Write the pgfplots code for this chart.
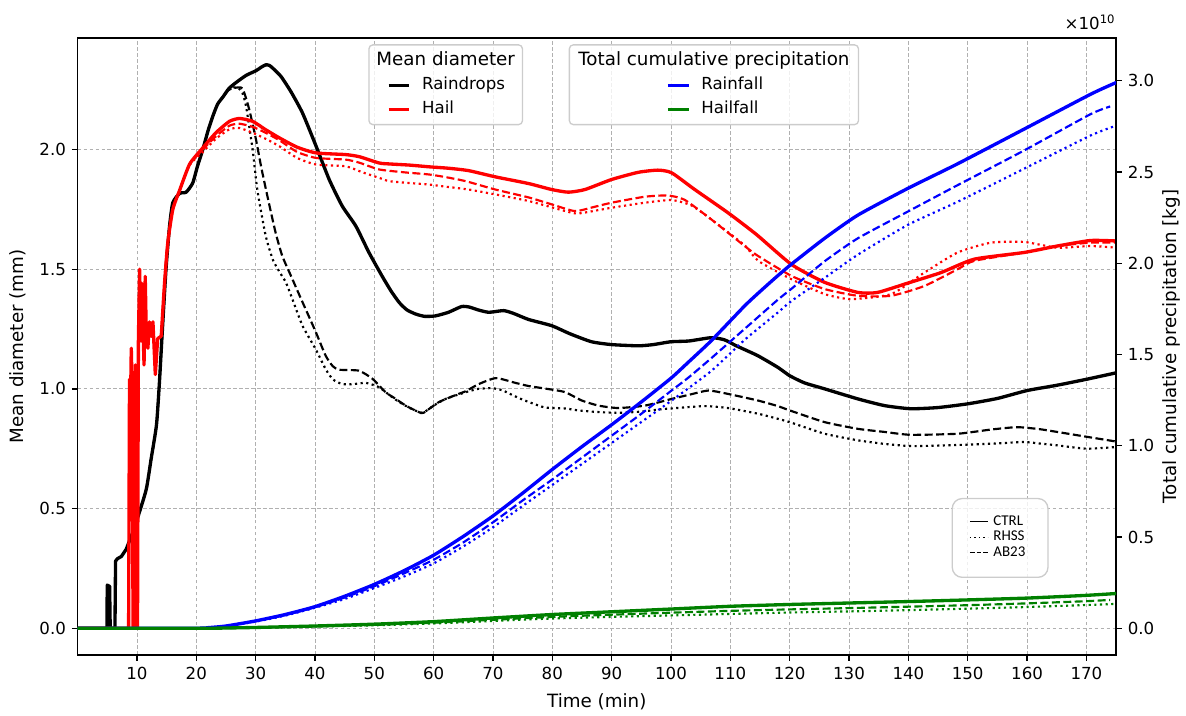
\documentclass[border=0pt]{standalone}
\usepackage{fontspec}
\setmainfont{DejaVu Sans}
\newfontfamily\carlito{Carlito}
\usepackage{pgfplots}
\usepackage{pgfplotstable}
\pgfplotsset{compat=1.18}

\definecolor{gridgray}{HTML}{B0B0B0}
\definecolor{framegray}{HTML}{CCCCCC}
\definecolor{mgreen}{HTML}{008000}
\definecolor{mblue}{HTML}{0000FF}
\definecolor{mred}{HTML}{FF0000}

% ---------------- Mean diameter (mm) ----------------
\pgfplotstableread{
x y
0 0
4.95 0
5.0 0.18
5.4 0.175
5.5 0
6.3 0
6.4 0.28
6.7 0.29
7.4 0.30
8.2 0.33
9.3 0.40
}\raindropsCTRLa

\pgfplotstableread{
x y
9.3 0.40
10.45 0.487
11.6 0.583
12.4 0.708
13.3 0.85
13.8 1.03
14.3 1.25
14.9 1.5
15.5 1.68
16.05 1.778
17.2 1.817
18.3 1.822
19.4 1.86
20.2 1.93
21.1 2.0
22.0 2.08
22.8 2.14
23.6 2.19
24.5 2.22
25.5 2.255
26.7 2.28
28.4 2.31
30.1 2.33
31.0 2.345
31.7 2.354
32.3 2.352
32.9 2.34
34.3 2.305
36.0 2.24
37.9 2.153
40.1 2.02
42.4 1.875
44.6 1.764
46.9 1.68
49.1 1.57
51.3 1.472
52.8 1.41
54.2 1.361
55.5 1.33
57.0 1.3125
58.5 1.303
60.3 1.305
62.5 1.32
64.7 1.344
66.0 1.342
67.5 1.33
69.3 1.32
71.8 1.327
73.5 1.315
76.0 1.29
79.9 1.264
83.0 1.23
86.6 1.197
90.0 1.185
94.5 1.18
97.0 1.185
100.0 1.197
103.0 1.2
106.8 1.214
109.0 1.205
111.0 1.18
114.6 1.139
118.0 1.09
120.0 1.055
122.5 1.025
125.9 1.0
131.5 0.958
136.0 0.93
140.4 0.917
145.0 0.922
150.0 0.9375
155.0 0.96
160.0 0.993
165.0 1.015
170.0 1.04
175.0 1.067
}\raindropsCTRLb

\pgfplotstableread{
x y
9.3 0.40
10.45 0.487
11.6 0.583
12.4 0.708
13.3 0.85
13.8 1.03
14.3 1.25
14.9 1.5
15.5 1.68
16.05 1.778
17.2 1.817
18.3 1.822
19.4 1.86
20.2 1.93
21.1 2.0
22.0 2.08
22.8 2.14
23.6 2.19
24.5 2.22
25.5 2.25
26.3 2.26
27.2 2.255
27.8 2.235
28.4 2.18
29.5 2.0
30.3 1.83
31.7 1.64
32.9 1.54
34.0 1.49
35.1 1.445
36.2 1.375
37.9 1.264
40.1 1.167
41.8 1.083
43.0 1.04
44.6 1.02
46.5 1.02
48.6 1.025
50.8 1.007
52.5 0.975
54.2 0.945
56.0 0.92
58.1 0.9
60.0 0.93
62.0 0.958
65.4 0.986
67.5 1.0
69.8 1.003
71.5 0.995
73.2 0.975
75.0 0.955
76.6 0.94
78.8 0.922
82.2 0.918
84.4 0.91
87.8 0.903
91.1 0.9
95.0 0.905
98.4 0.915
101.0 0.92
105.7 0.928
109.6 0.92
114.7 0.896
118.0 0.875
120.0 0.861
125.9 0.8125
131.5 0.785
136.0 0.77
140.4 0.761
145.0 0.763
150.0 0.767
155.0 0.772
159.5 0.778
162.0 0.772
165.1 0.764
170.0 0.75
175.0 0.757
}\raindropsRHSS

\pgfplotstableread{
x y
9.3 0.40
10.45 0.487
11.6 0.583
12.4 0.708
13.3 0.85
13.8 1.03
14.3 1.25
14.9 1.5
15.5 1.68
16.05 1.778
17.2 1.817
18.3 1.822
19.4 1.86
20.2 1.93
21.1 2.0
22.0 2.08
22.8 2.14
23.6 2.19
24.5 2.22
25.5 2.25
26.5 2.258
27.8 2.255
28.9 2.17
30.0 2.05
31.0 1.92
32.3 1.77
33.4 1.65
34.5 1.555
36.0 1.47
37.5 1.385
40.1 1.24
41.8 1.139
43.0 1.095
44.1 1.08
47.4 1.076
49.7 1.042
51.9 0.986
53.5 0.96
55.3 0.93
57.5 0.903
58.3 0.9
60.9 0.945
64.2 0.979
65.4 0.99
67.6 1.02
70.5 1.045
73.8 1.025
76.0 1.012
79.9 0.997
82.2 0.986
85.0 0.951
87.8 0.93
91.1 0.92
95.6 0.93
100.1 0.958
103.0 0.975
106.3 0.993
109.6 0.979
114.7 0.951
118.0 0.928
120.0 0.91
125.9 0.861
131.5 0.833
136.0 0.82
140.4 0.808
148.3 0.8125
153.9 0.83
158.3 0.84
162.0 0.832
165.1 0.82
170.0 0.80
175.0 0.78
}\raindropsAB

\pgfplotstableread{
x y
0 0
8.6 0
8.75 1.04
8.9 0.9
9.05 1.17
9.2 1.0
9.35 0
9.6 0
9.75 1.1
9.9 1.0
10.1 0
10.25 1.2
10.45 1.5
10.7 1.2
10.85 1.44
11.0 1.28
11.2 1.1
11.4 1.47
11.6 1.2
11.85 1.17
12.1 1.28
12.4 1.22
12.7 1.28
13.1 1.06
13.5 1.21
14.1 1.22
}\hailCTRLa

\pgfplotstableread{
x y
14.1 1.22
14.65 1.44
15.2 1.61
16.05 1.75
17.2 1.83
18.9 1.94
21.1 2.007
23.3 2.07
25.6 2.118
27.3 2.13
29.5 2.118
31.7 2.083
34.0 2.049
37.0 2.01
40.2 1.986
45.2 1.979
47.5 1.97
50.8 1.944
52.5 1.94
56.0 1.935
59.2 1.928
62.5 1.922
65.9 1.912
70.4 1.886
76.0 1.858
79.9 1.833
82.7 1.822
85.5 1.833
90.0 1.875
94.5 1.905
97.8 1.914
100.1 1.903
104.0 1.833
109.6 1.736
114.4 1.645
120.3 1.52
125.9 1.445
131.5 1.403
134.8 1.403
139.9 1.442
145.5 1.486
151.1 1.542
159.5 1.57
165.1 1.597
170.7 1.62
175.0 1.618
}\hailCTRLb

\pgfplotstableread{
x y
14.1 1.22
14.65 1.44
15.2 1.61
16.05 1.75
17.2 1.83
18.9 1.935
21.1 1.99
23.3 2.045
25.6 2.085
27.3 2.09
29.5 2.07
31.7 2.045
34.0 2.014
37.0 1.965
40.2 1.9375
45.2 1.93
48.0 1.905
50.8 1.882
52.5 1.868
56.0 1.86
59.2 1.854
62.0 1.845
65.9 1.833
70.4 1.8125
76.0 1.785
82.2 1.743
84.4 1.733
90.0 1.757
95.6 1.778
100.1 1.789
103.4 1.767
106.8 1.708
112.4 1.6
114.7 1.535
120.3 1.458
125.9 1.396
130.3 1.375
137.1 1.396
142.7 1.486
148.3 1.57
153.9 1.611
159.5 1.614
165.1 1.59
170.7 1.597
175.0 1.59
}\hailRHSS

\pgfplotstableread{
x y
14.1 1.22
14.65 1.44
15.2 1.61
16.05 1.75
17.2 1.83
18.9 1.94
21.1 2.0
23.3 2.055
25.6 2.1
27.3 2.108
29.5 2.095
31.7 2.07
34.0 2.039
37.0 1.99
40.2 1.965
45.2 1.958
47.5 1.945
50.8 1.917
55.0 1.905
59.2 1.896
62.0 1.885
65.4 1.868
70.4 1.833
76.0 1.80
79.9 1.771
83.8 1.743
87.0 1.76
90.0 1.778
95.6 1.803
99.5 1.808
102.3 1.79
106.8 1.708
112.4 1.597
114.7 1.555
120.3 1.472
125.9 1.417
131.5 1.389
137.1 1.389
142.7 1.43
148.3 1.5
151.1 1.535
159.5 1.57
165.1 1.597
170.7 1.611
175.0 1.611
}\hailAB

% ---------------- Total cumulative precipitation (x 1e10 kg) ----------------
\pgfplotstableread{
x y
0 0
20 0
22 0.003
25 0.012
30 0.04
35 0.075
40 0.118
45 0.175
50 0.24
55 0.315
60 0.4
65 0.503
70 0.615
75 0.74
80 0.87
85 0.995
90 1.115
95 1.24
100 1.37
103 1.46
106.8 1.576
112.4 1.766
115 1.845
118 1.932
120.3 1.995
125.9 2.137
131.5 2.264
139.9 2.41
148.3 2.545
159.5 2.735
170.7 2.926
175 2.99
}\rainCTRL

\pgfplotstableread{
x y
0 0
20 0
25 0.01
30 0.036
35 0.069
40 0.112
45 0.16
50 0.22
55 0.283
60 0.355
65 0.448
70 0.553
75 0.67
80 0.785
85 0.9
90 1.015
95 1.13
100 1.245
106.8 1.41
112.4 1.58
118 1.73
120.3 1.793
125.9 1.92
131.5 2.047
139.9 2.21
148.3 2.337
159.5 2.518
170.7 2.7
175 2.754
}\rainRHSS

\pgfplotstableread{
x y
0 0
20 0
25 0.011
30 0.038
35 0.072
40 0.115
45 0.168
50 0.23
55 0.3
60 0.375
65 0.47
70 0.58
75 0.7
80 0.815
85 0.935
90 1.055
95 1.175
100 1.3
103 1.375
106.8 1.48
112.4 1.64
118 1.8
120.3 1.86
125.9 2.011
131.5 2.137
139.9 2.283
148.3 2.428
159.5 2.618
170.7 2.817
174 2.859
}\rainAB

\pgfplotstableread{
x y
0 0
22 0
25 0.001
30 0.004
40 0.012
50 0.022
60 0.036
70 0.056
80 0.075
90 0.09
100 0.105
110 0.12
120 0.13
130 0.138
140 0.146
150 0.155
160 0.165
170 0.18
175 0.19
}\hailfallCTRL

\pgfplotstableread{
x y
0 0
22 0
30 0.003
40 0.009
50 0.016
60 0.026
70 0.04
80 0.053
90 0.062
100 0.07
110 0.078
120 0.086
130 0.092
140 0.099
150 0.107
160 0.116
170 0.127
175 0.133
}\hailfallRHSS

\pgfplotstableread{
x y
0 0
22 0
30 0.003
40 0.01
50 0.018
60 0.03
70 0.046
80 0.062
90 0.074
100 0.085
110 0.095
120 0.103
130 0.11
140 0.118
150 0.126
160 0.136
170 0.148
174 0.155
}\hailfallAB

\pgfplotsset{
  base/.style={
    width=624.9pt, height=371.4pt, scale only axis,
    at={(0,0)}, anchor=south west,
    xmin=0, xmax=175,
    /pgf/number format/assume math mode=true,
    ticklabel style={font=\fontsize{10}{12}\selectfont},
    label style={font=\fontsize{11}{13}\selectfont},
    tick align=outside, major tick length=3.5pt,
    every tick/.style={black, line width=0.8pt},
    axis line style={line width=0.8pt},
  },
  ctrl/.style={line width=2pt, line join=round, line cap=round},
  rhss/.style={line width=1.3pt, dash pattern=on 1.3pt off 2.1pt},
  ab/.style={line width=1.3pt, dash pattern=on 4.8pt off 2.1pt},
  sm/.style={smooth, tension=0.35},
  legbase/.style={
    width=624.9pt, height=371.4pt, scale only axis,
    at={(0,0)}, anchor=south west, hide axis,
    xmin=0, xmax=1, ymin=0, ymax=1,
    legend cell align=left,
  },
}

\begin{document}
\begin{tikzpicture}
\begin{scope}[x=0.6pt,y=-0.6pt,shift={(-77.8,-657)}]
\useasboundingbox (0,0) rectangle (1186,713);
\end{scope}

% ---------- left axis ----------
\begin{axis}[base,
  ymin=-0.1125, ymax=2.4667,
  xtick={10,20,...,170}, ytick={0,0.5,1,1.5,2},
  xtick pos=bottom, ytick pos=left,
  yticklabel style={/pgf/number format/.cd, fixed, fixed zerofill, precision=1},
  grid=major,
  grid style={gridgray, line width=0.5pt, dash pattern=on 2.2pt off 1.4pt},
  xlabel={Time (min)}, ylabel={Mean diameter (mm)},
  xlabel style={at={(axis description cs:0.5,-0.0759)}, anchor=center},
  ylabel style={at={(axis description cs:-0.0574,0.5)}, anchor=center},
]
\addplot[black, ctrl] table {\raindropsCTRLa};
\addplot[black, ctrl, sm] table {\raindropsCTRLb};
\addplot[black, rhss, sm] table {\raindropsRHSS};
\addplot[black, ab, sm] table {\raindropsAB};
\addplot[mred, ctrl] table {\hailCTRLa};
\addplot[mred, ctrl, sm] table {\hailCTRLb};
\addplot[mred, rhss, sm] table {\hailRHSS};
\addplot[mred, ab, sm] table {\hailAB};
\end{axis}

% ---------- right axis ----------
\begin{axis}[base,
  ymin=-0.1475, ymax=3.235,
  axis x line=none, axis y line*=right,
  ytick={0,0.5,1,1.5,2,2.5,3},
  yticklabel style={/pgf/number format/.cd, fixed, fixed zerofill, precision=1},
  scaled y ticks=false,
  ylabel={Total cumulative precipitation [kg]},
  ylabel style={at={(axis description cs:1.0535,0.5)}, anchor=center},
]
\addplot[mblue, ctrl, sm] table {\rainCTRL};
\addplot[mblue, rhss, sm] table {\rainRHSS};
\addplot[mblue, ab, sm] table {\rainAB};
\addplot[mgreen, ctrl, sm] table {\hailfallCTRL};
\addplot[mgreen, rhss, sm] table {\hailfallRHSS};
\addplot[mgreen, ab, sm] table {\hailfallAB};
\end{axis}

% ---------- legend frames, titles, offset text ----------
\begin{scope}[x=0.6pt,y=-0.6pt,shift={(-77.8,-657)}]
\draw[framegray, line width=0.8pt, fill=white, fill opacity=0.8, rounded corners=2.4pt] (370,45) rectangle (524,125);
\draw[framegray, line width=0.8pt, fill=white, fill opacity=0.8, rounded corners=2.4pt] (571,45) rectangle (861,125);
\draw[framegray, line width=0.8pt, fill=white, fill opacity=0.8, rounded corners=6pt] (955,500) rectangle (1051,579);
\node[anchor=base, inner sep=0pt, font=\fontsize{11}{13}\selectfont] at (447,66) {Mean diameter};
\node[anchor=base, inner sep=0pt, font=\fontsize{11}{13}\selectfont] at (716,66) {Total cumulative precipitation};
\node[anchor=base east, inner sep=0pt, font=\fontsize{10}{12}\selectfont] at (1119,30) {×10\textsuperscript{10}};
\end{scope}

% ---------- legend 1 ----------
\begin{axis}[legbase,
  legend image code/.code={\draw[#1] (0pt,0pt) -- (12.6pt,0pt);},
  legend style={at={(axis description cs:0.2978,0.9359)}, anchor=north west,
    draw=none, fill=none, inner sep=0pt, outer sep=0pt,
    row sep=4.4pt, column sep=6.6pt,
    nodes={inner sep=0pt, text height=7.5pt, text depth=2.5pt, font=\fontsize{10}{12}\selectfont}},
]
\addlegendimage{black, line width=2pt}
\addlegendentry{Raindrops}
\addlegendimage{mred, line width=2pt}
\addlegendentry{Hail}
\end{axis}

% ---------- legend 2 ----------
\begin{axis}[legbase,
  legend image code/.code={\draw[#1] (0pt,0pt) -- (12.6pt,0pt);},
  legend style={at={(axis description cs:0.5667,0.9359)}, anchor=north west,
    draw=none, fill=none, inner sep=0pt, outer sep=0pt,
    row sep=4.4pt, column sep=6.6pt,
    nodes={inner sep=0pt, text height=7.5pt, text depth=2.5pt, font=\fontsize{10}{12}\selectfont}},
]
\addlegendimage{mblue, line width=2pt}
\addlegendentry{Rainfall}
\addlegendimage{mgreen, line width=2pt}
\addlegendentry{Hailfall}
\end{axis}

% ---------- legend 3 ----------
\begin{axis}[legbase,
  legend image code/.code={\draw[#1] (0pt,0pt) -- (10.8pt,0pt);},
  legend style={at={(axis description cs:0.8586,0.2267)}, anchor=north west,
    draw=none, fill=none, inner sep=0pt, outer sep=0pt,
    row sep=1.3pt, column sep=3pt,
    nodes={inner sep=0pt, text height=6pt, text depth=2pt, font=\carlito\fontsize{9}{11}\selectfont}},
]
\addlegendimage{black, line width=0.75pt}
\addlegendentry{CTRL}
\addlegendimage{black, line width=0.75pt, dash pattern=on 0.8pt off 1.9pt}
\addlegendentry{RHSS}
\addlegendimage{black, line width=0.75pt, dash pattern=on 2.8pt off 1.2pt}
\addlegendentry{AB23}
\end{axis}
\end{tikzpicture}
\end{document}
